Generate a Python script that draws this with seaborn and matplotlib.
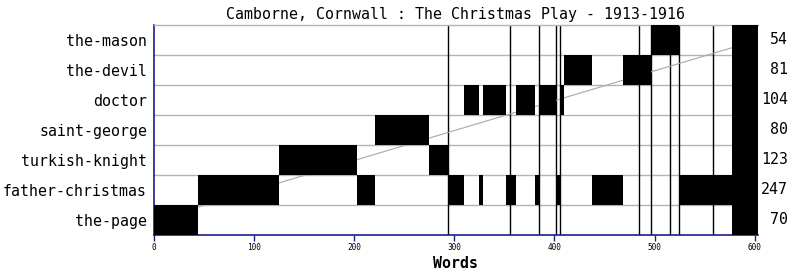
import matplotlib
matplotlib.use("Agg")
import matplotlib.pyplot as plt
import matplotlib.transforms as mtransforms
import seaborn as sns
import pandas as pd

# Characters, bottom row first (order of first appearance)
characters = ["the-page", "father-christmas", "turkish-knight", "saint-george",
              "doctor", "the-devil", "the-mason"]
word_totals = [70, 247, 123, 80, 104, 81, 54]

# Speech turns: start word, end word, speaker
turn_start = [0, 44, 125, 203, 221, 275, 294, 310, 325, 329, 352, 362, 381,
              385, 402, 406, 410, 437, 468, 496, 524]
turn_end = [44, 125, 203, 221, 275, 294, 310, 325, 329, 352, 362, 381, 385,
            402, 406, 410, 437, 468, 496, 524, 577]
turn_speaker = ["the-page", "father-christmas", "turkish-knight", "father-christmas",
                "saint-george", "turkish-knight", "father-christmas", "doctor",
                "father-christmas", "doctor", "father-christmas", "doctor",
                "father-christmas", "doctor", "father-christmas", "doctor",
                "the-devil", "father-christmas", "the-devil", "the-mason",
                "father-christmas"]
# Closing chorus spoken by everyone
chorus_start, chorus_end = 577, 603

# Section breaks (word positions)
breaks = [294, 356, 385, 402, 406, 484, 496, 515, 524, 558]

# Trend line (word position, row position)
trend_x = [44, 577]
trend_y = [0.43, 5.74]

x_ticks = [0, 100, 200, 300, 400, 500, 600]

turns = pd.DataFrame({"start": turn_start, "end": turn_end, "speaker": turn_speaker})
for c in characters:
    turns = pd.concat([turns, pd.DataFrame({"start": [chorus_start], "end": [chorus_end],
                                            "speaker": [c]})], ignore_index=True)
turns["row"] = turns["speaker"].map({c: i for i, c in enumerate(characters)})
turns["width"] = turns["end"] - turns["start"]

sns.set_theme(style="white")
mono = "DejaVu Sans Mono"
plt.rcParams["font.family"] = [mono]
plt.rcParams["text.color"] = "black"
plt.rcParams["axes.labelcolor"] = "black"
plt.rcParams["xtick.color"] = "black"
plt.rcParams["ytick.color"] = "black"

W, H = 794, 275
fig = plt.figure(figsize=(W / 100, H / 100), dpi=100)
ax = fig.add_axes([154 / W, 1 - 235 / H, (757.7 - 154) / W, (235 - 25) / H])

navy = "#1c1c8c"
grid_c = "#b4b4b4"

# row gridlines
for i in range(len(characters) - 1):
    ax.axhline(i + 0.5, color=grid_c, lw=1.0, zorder=1)

# section breaks
for b in breaks:
    ax.axvline(b, color="black", lw=1.0, zorder=2)

# trend line
sns.lineplot(x=trend_x, y=trend_y, ax=ax, color="#a8a8a8", lw=0.8, zorder=3)

# speech bars
ax.barh(turns["row"], turns["width"], left=turns["start"], height=1.0,
        color="black", edgecolor="none", zorder=4)

ax.set_xlim(0, 603)
ax.set_ylim(-0.5, len(characters) - 0.5)
ax.set_yticks(range(len(characters)))
ax.set_yticklabels(characters, fontsize=10.7, family=mono, color="black")
ax.set_xticks(x_ticks)
ax.set_xticklabels([str(t) for t in x_ticks], fontsize=5.6, family=mono, color="black")
ax.tick_params(axis="y", length=0, pad=5)
ax.tick_params(axis="x", length=4, width=1, color=navy, pad=1.5, bottom=True)

ax.spines["right"].set_visible(False)
ax.spines["top"].set_color(grid_c)
ax.spines["top"].set_linewidth(1.0)
ax.spines["left"].set_color(navy)
ax.spines["left"].set_linewidth(1.2)
ax.spines["bottom"].set_color(navy)
ax.spines["bottom"].set_linewidth(1.2)

ax.set_xlabel("Words", fontsize=10.7, family=mono, fontweight="bold", labelpad=3,
              color="black")
ax.set_title("Camborne, Cornwall : The Christmas Play - 1913-1916",
             fontsize=10.7, family=mono, pad=4, color="black")

trans = mtransforms.blended_transform_factory(fig.transFigure, ax.transData)
for i, tot in enumerate(word_totals):
    ax.text(788 / W, i, str(tot), transform=trans, ha="right", va="center",
            fontsize=10.7, family=mono, color="black")

fig.savefig("out.png", dpi=100)
